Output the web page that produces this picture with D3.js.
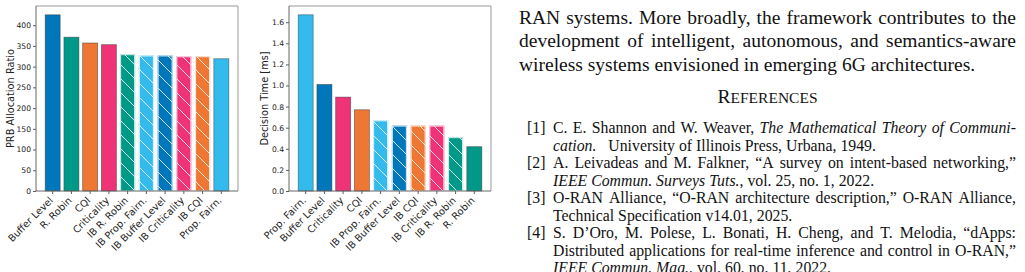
<!DOCTYPE html>
<html>
<head>
<meta charset="utf-8">
<script src="https://cdn.jsdelivr.net/npm/d3@7"></script>
<style>
  html, body { margin: 0; padding: 0; background: #fff; }
  svg { display: block; }
</style>
</head>
<body>
<script>
// ---------------- DATA ----------------
const prbCategories = ["Buffer Level", "R. Robin", "CQI", "Criticality", "IB R. Robin",
  "IB Prop. Fairn.", "IB Buffer Level", "IB Criticality", "IB CQI", "Prop. Fairn."];
const prbValues = [425, 371, 357, 353, 330, 327, 327, 325, 325, 319];
const prbTicks = [0, 50, 100, 150, 200, 250, 300, 350, 400];

const timeCategories = ["Prop. Fairn.", "Buffer Level", "Criticality", "CQI", "IB Prop. Fairn.",
  "IB Buffer Level", "IB CQI", "IB Criticality", "IB R. Robin", "R. Robin"];
const timeValues = [1.67, 1.01, 0.89, 0.77, 0.67, 0.62, 0.62, 0.62, 0.51, 0.42];
const timeTicks = [0.0, 0.2, 0.4, 0.6, 0.8, 1.0, 1.2, 1.4, 1.6];

const methodNames = ["Buffer Level", "R. Robin", "CQI", "Criticality", "Prop. Fairn."];
const methodColors = ["#0077BB", "#009988", "#EE7733", "#EE3377", "#33BBEE"];

const bodyLines = [
  "RAN systems. More broadly, the framework contributes to the",
  "development of intelligent, autonomous, and semantics-aware",
  "wireless systems envisioned in emerging 6G architectures."
];
const refLabels = ["[1]", "[2]", "[3]", "[4]"];
const refLines = [
  [[["C. E. Shannon and W. Weaver, ", 0], ["The Mathematical Theory of Communi-", 1]],
   [["cation.", 1], ["\u2002 University of Illinois Press, Urbana, 1949.", 0]]],
  [[["A. Leivadeas and M. Falkner, \u201CA survey on intent-based networking,\u201D", 0]],
   [["IEEE Commun. Surveys Tuts.", 1], [", vol. 25, no. 1, 2022.", 0]]],
  [[["O-RAN Alliance, \u201CO-RAN architecture description,\u201D O-RAN Alliance,", 0]],
   [["Technical Specification v14.01, 2025.", 0]]],
  [[["S. D\u2019Oro, M. Polese, L. Bonati, H. Cheng, and T. Melodia, \u201CdApps:", 0]],
   [["Distributed applications for real-time inference and control in O-RAN,\u201D", 0]],
   [["IEEE Commun. Mag.", 1], [", vol. 60, no. 11, 2022.", 0]]]
];
const refJustify = [[true, false], [true, false], [true, false], [true, true, false]];

// ---------------- SETUP ----------------
const W = 1025, H = 272;
const svg = d3.select("body").append("svg").attr("width", W).attr("height", H);
svg.append("rect").attr("width", W).attr("height", H).attr("fill", "#fff");

const defs = svg.append("defs");
const pat = defs.append("pattern").attr("id", "hatch")
  .attr("patternUnits", "userSpaceOnUse").attr("width", 14).attr("height", 14);
pat.append("path").attr("d", "M-2,-2 L16,16 M-2,12 L2,16 M12,-2 L16,2")
  .attr("stroke", "#ffffff").attr("stroke-opacity", 0.8).attr("stroke-width", 1).attr("fill", "none");

const colorOf = d3.scaleOrdinal().domain(methodNames).range(methodColors);
const baseName = c => c.replace(/^IB /, "");
const isIB = c => c.startsWith("IB ");

function drawChart(cfg) {
  const g = svg.append("g");
  const x = d3.scaleBand().domain(cfg.cats).range([cfg.left, cfg.right])
    .paddingInner(0.2).paddingOuter(0.49);
  const y = d3.scaleLinear().domain([0, d3.max(cfg.vals) * 1.05]).range([cfg.bottom, cfg.top]);
  const data = cfg.cats.map((c, i) => ({ c, v: cfg.vals[i] }));

  // bars
  g.selectAll("rect.bar").data(data).enter().append("rect")
    .attr("x", d => x(d.c)).attr("width", x.bandwidth())
    .attr("y", d => y(d.v)).attr("height", d => y(0) - y(d.v))
    .attr("fill", d => colorOf(baseName(d.c)))
    .attr("stroke", d => isIB(d.c) ? "none" : "rgba(50,50,50,0.55)")
    .attr("stroke-width", 0.8);
  g.selectAll("rect.hat").data(data.filter(d => isIB(d.c))).enter().append("rect")
    .attr("x", d => x(d.c) + 0.5).attr("width", x.bandwidth() - 1)
    .attr("y", d => y(d.v) + 0.5).attr("height", d => y(0) - y(d.v) - 0.5)
    .attr("fill", "url(#hatch)")
    .attr("stroke", "rgba(255,255,255,0.85)").attr("stroke-width", 1);

  // y axis
  const ax = d3.axisLeft(y).tickValues(cfg.ticks).tickSize(3).tickPadding(2)
    .tickFormat(cfg.fmt);
  const ag = g.append("g").attr("transform", `translate(${cfg.left},0)`).call(ax);
  ag.select(".domain").remove();
  ag.selectAll("line").attr("stroke", "#333").attr("stroke-width", 0.8);
  ag.selectAll("text").attr("fill", "#222").style("font-family", "DejaVu Sans")
    .style("font-size", "7.6px");

  // x ticks and labels
  const xg = g.append("g");
  data.forEach(d => {
    const cx = x(d.c) + x.bandwidth() / 2;
    xg.append("line").attr("x1", cx).attr("x2", cx).attr("y1", cfg.bottom).attr("y2", cfg.bottom + 3)
      .attr("stroke", "#333").attr("stroke-width", 0.8);
    xg.append("text").text(d.c)
      .attr("transform", `translate(${cx + 1},${cfg.bottom + 10}) rotate(-45)`)
      .attr("text-anchor", "end").attr("fill", "#222")
      .style("font-family", "DejaVu Sans").style("font-size", "9.8px");
  });

  // spines
  g.append("line").attr("x1", cfg.left).attr("x2", cfg.right).attr("y1", cfg.top).attr("y2", cfg.top)
    .attr("stroke", "#999").attr("stroke-width", 1);
  g.append("line").attr("x1", cfg.right).attr("x2", cfg.right).attr("y1", cfg.top).attr("y2", cfg.bottom)
    .attr("stroke", "#999").attr("stroke-width", 1);
  g.append("line").attr("x1", cfg.left).attr("x2", cfg.left).attr("y1", cfg.top).attr("y2", cfg.bottom)
    .attr("stroke", "#666").attr("stroke-width", 1);
  g.append("line").attr("x1", cfg.left).attr("x2", cfg.right).attr("y1", cfg.bottom).attr("y2", cfg.bottom)
    .attr("stroke", "#666").attr("stroke-width", 1);

  // y label
  g.append("text").text(cfg.ylabel)
    .attr("transform", `translate(${cfg.ylabelX},${(cfg.top + cfg.bottom) / 2}) rotate(-90)`)
    .attr("text-anchor", "middle").attr("fill", "#222")
    .style("font-family", "DejaVu Sans").style("font-size", "9.8px");
}

drawChart({ cats: prbCategories, vals: prbValues, ticks: prbTicks, fmt: d3.format("d"),
  left: 36, right: 238, top: 6, bottom: 191, ylabel: "PRB Allocation Ratio", ylabelX: 14 });
drawChart({ cats: timeCategories, vals: timeValues, ticks: timeTicks, fmt: d3.format(".1f"),
  left: 289, right: 491, top: 6, bottom: 191, ylabel: "Decision Time [ms]", ylabelX: 268 });

// ---------------- TEXT COLUMN ----------------
const SERIF = "Liberation Serif";
function measure(pieces, size) {
  const t = svg.append("text").style("font-family", SERIF).style("font-size", size + "px")
    .attr("xml:space", "preserve");
  pieces.forEach(p => t.append("tspan").text(p.t).style("font-style", p.i ? "italic" : "normal"));
  const w = t.node().getComputedTextLength();
  t.remove();
  return w;
}
function drawLine(segs, x0, x1, y, size, justify) {
  if (!justify) {
    const t = svg.append("text").attr("x", x0).attr("y", y).attr("fill", "#111")
      .attr("xml:space", "preserve").style("white-space", "pre")
      .style("font-family", SERIF).style("font-size", size + "px");
    segs.forEach(s => t.append("tspan").text(s[0]).style("font-style", s[1] ? "italic" : "normal"));
    return;
  }
  const words = [[]];
  segs.forEach(s => {
    s[0].split(/( +)/).forEach(ch => {
      if (ch === "") return;
      if (/^ +$/.test(ch)) { if (words[words.length - 1].length) words.push([]); }
      else words[words.length - 1].push({ t: ch, i: s[1] });
    });
  });
  if (!words[words.length - 1].length) words.pop();
  const widths = words.map(w => measure(w, size));
  const total = d3.sum(widths);
  const gap = (x1 - x0 - total) / (words.length - 1);
  let cx = x0;
  words.forEach((w, k) => {
    const t = svg.append("text").attr("x", cx).attr("y", y).attr("fill", "#111")
      .attr("xml:space", "preserve")
      .style("font-family", SERIF).style("font-size", size + "px");
    w.forEach(p => t.append("tspan").text(p.t).style("font-style", p.i ? "italic" : "normal"));
    cx += widths[k] + gap;
  });
}

const bodySize = 19.5, bodyX0 = 519, bodyX1 = 1016;
bodyLines.forEach((l, i) => drawLine([[l, 0]], bodyX0, bodyX1, 23.5 + 23.7 * i, bodySize, i < 2));

// heading in small caps
const hd = svg.append("text").attr("x", 767.5).attr("y", 103).attr("text-anchor", "middle")
  .attr("fill", "#111").style("font-family", SERIF);
hd.append("tspan").text("R").style("font-size", "19.5px");
hd.append("tspan").text("EFERENCES").style("font-size", "15.5px");

const refSize = 15.8, refX0 = 553, refLabelX = 527;
let ly = 133;
refLines.forEach((item, r) => {
  svg.append("text").attr("x", refLabelX).attr("y", ly).attr("fill", "#111")
    .style("font-family", SERIF).style("font-size", refSize + "px").text(refLabels[r]);
  item.forEach((segs, k) => {
    drawLine(segs, refX0, bodyX1, ly, refSize, refJustify[r][k]);
    ly += 17.5;
  });
});
</script>
</body>
</html>
